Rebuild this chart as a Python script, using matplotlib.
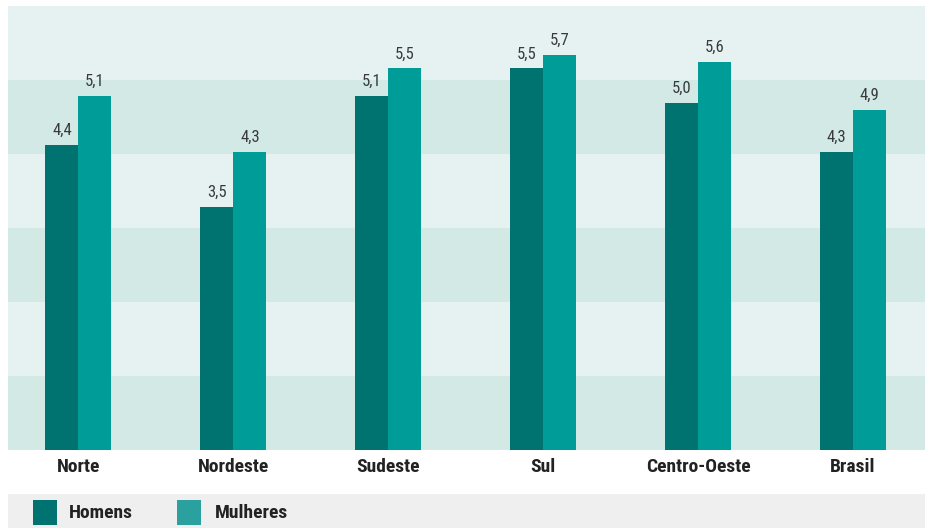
import matplotlib
matplotlib.use("Agg")
import matplotlib.pyplot as plt
from matplotlib import font_manager
from matplotlib.patches import Rectangle

categories = ["Norte", "Nordeste", "Sudeste", "Sul", "Centro-Oeste", "Brasil"]
homens = [4.4, 3.5, 5.1, 5.5, 5.0, 4.3]
mulheres = [5.1, 4.3, 5.5, 5.7, 5.6, 4.9]
series_names = ["Homens", "Mulheres"]

names = {f.name for f in font_manager.fontManager.ttflist}
cond = None
for cand in ["Liberation Sans Narrow", "DejaVu Sans Condensed", "Roboto Condensed", "Open Sans Condensed"]:
    if cand in names:
        cond = cand
        break
if cond is None:
    cond = "DejaVu Sans"

c_h = "#007370"
c_m = "#009c98"
c_m_leg = "#2aa19e"
band_light = "#e6f2f2"
band_dark = "#d2e9e6"
txt = "#222222"

W, H = 925, 528
fig = plt.figure(figsize=(W / 100, H / 100), dpi=100)
ax = fig.add_axes([8 / W, 1 - 450 / H, (925 - 8) / W, (450 - 6) / H])
ymax = 6.4
ax.set_ylim(0, ymax)
ax.set_xlim(-0.455, 5.465)
for i in range(6):
    ax.axhspan(i * ymax / 6, (i + 1) * ymax / 6,
               color=band_dark if i % 2 == 0 else band_light, lw=0, zorder=0)

w = 0.213
xs = list(range(len(categories)))
ax.bar([x - w / 2 for x in xs], homens, width=w, color=c_h, zorder=2, linewidth=0)
ax.bar([x + w / 2 for x in xs], mulheres, width=w, color=c_m, zorder=2, linewidth=0)
for x, a, b in zip(xs, homens, mulheres):
    ax.text(x - w / 2, a + 0.1, f"{a:.1f}".replace(".", ","), ha="center", va="bottom",
            fontsize=12, color="#3a3a3a", family=cond)
    ax.text(x + w / 2, b + 0.1, f"{b:.1f}".replace(".", ","), ha="center", va="bottom",
            fontsize=12, color="#3a3a3a", family=cond)

ax.set_xticks(xs)
ax.set_xticklabels(categories, fontsize=14, fontweight="bold", color=txt, family=cond)
ax.tick_params(axis="x", length=0, pad=6)
ax.set_yticks([])
for s in ax.spines.values():
    s.set_visible(False)

# legend strip
fig.patches.append(Rectangle((8 / W, 0), (925 - 8) / W, 34 / H, transform=fig.transFigure,
                             color="#efefef", lw=0, zorder=0))
fig.patches.append(Rectangle((33 / W, 3 / H), 24 / W, 25 / H, transform=fig.transFigure,
                             color=c_h, lw=0, zorder=1))
fig.patches.append(Rectangle((177 / W, 3 / H), 24 / W, 25 / H, transform=fig.transFigure,
                             color=c_m_leg, lw=0, zorder=1))
fig.text(69 / W, 15.5 / H, series_names[0], fontsize=14, fontweight="bold", color=txt,
         family=cond, va="center", ha="left")
fig.text(215 / W, 15.5 / H, series_names[1], fontsize=14, fontweight="bold", color=txt,
         family=cond, va="center", ha="left")

fig.savefig("out.png", dpi=100, facecolor="white")
